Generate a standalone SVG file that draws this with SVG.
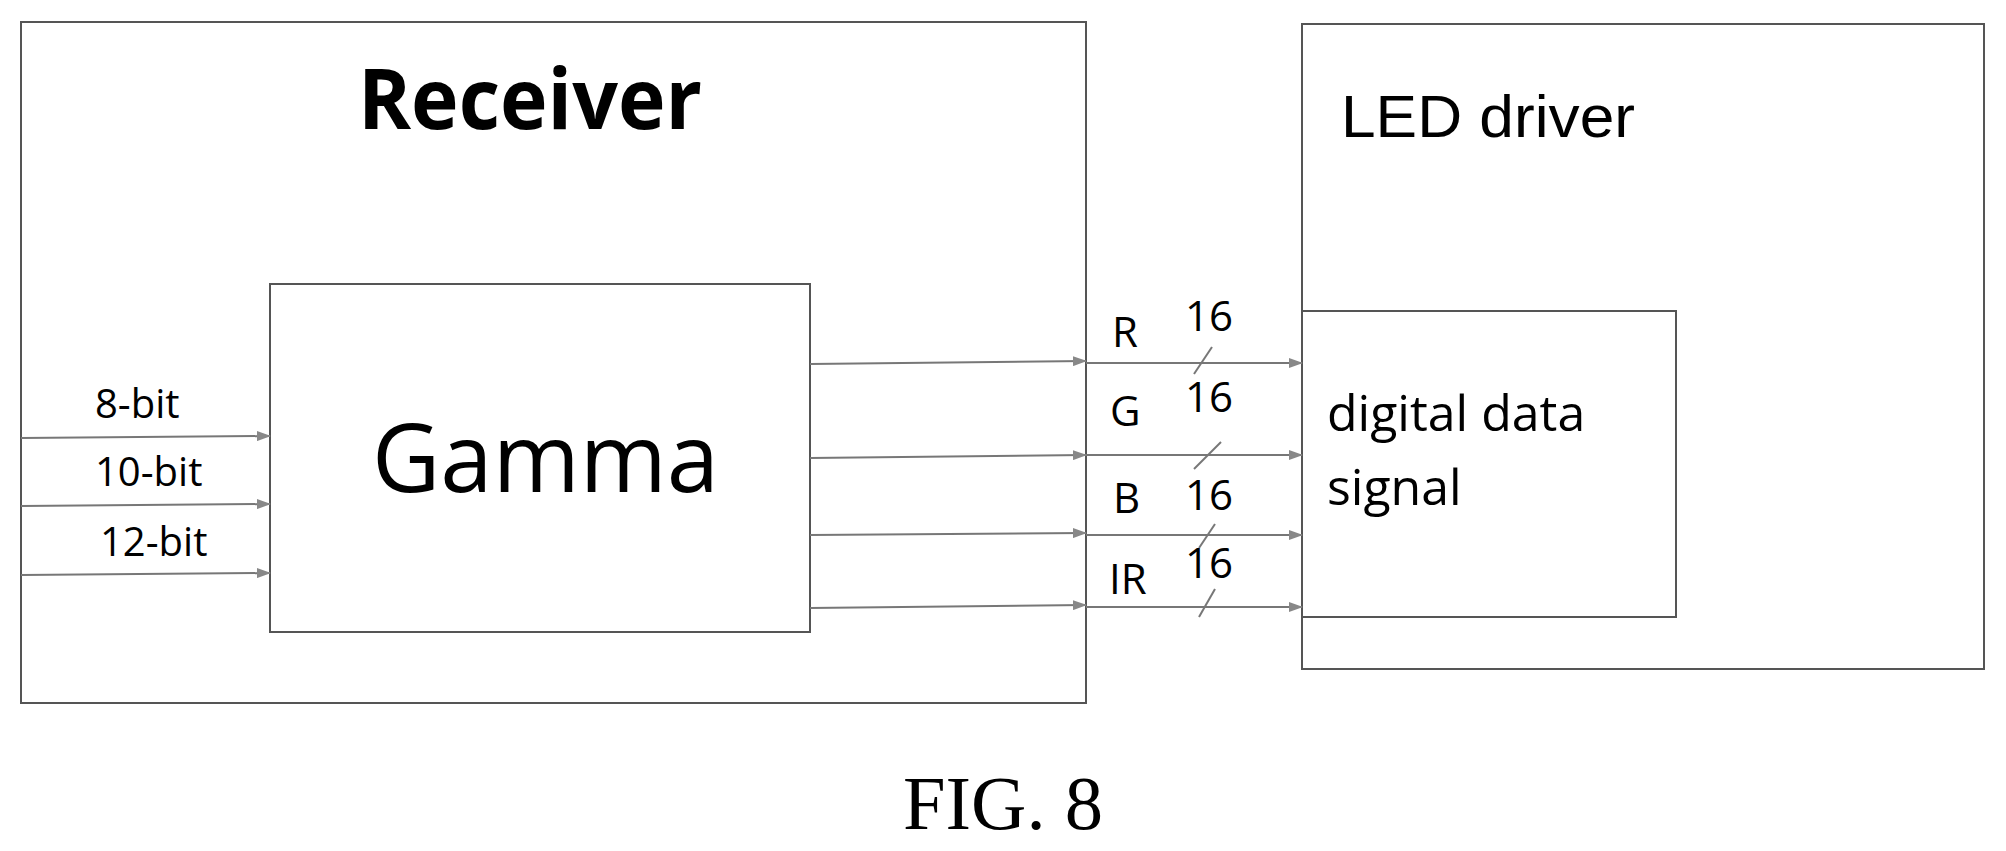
<svg xmlns="http://www.w3.org/2000/svg" width="2006" height="851" viewBox="0 0 2006 851">
<style>
.box{fill:none;stroke:#555;stroke-width:2}
.ln{stroke:#777;stroke-width:2;fill:none}
.c{font-family:"Open Sans","Liberation Sans",sans-serif;fill:#000}
.a{font-family:"Liberation Sans",Arial,sans-serif;fill:#000}
</style>
<defs><marker id="ar" markerWidth="14" markerHeight="10" refX="13" refY="5" orient="auto" markerUnits="userSpaceOnUse"><path d="M0,0 L14,5 L0,10 Z" fill="#888"/></marker></defs>
<g id="receiver"><rect class="box" x="21" y="22" width="1065" height="681"/>
<text class="c" x="358" y="129" font-size="84" font-weight="bold" textLength="344" lengthAdjust="spacingAndGlyphs">Receiver</text></g>
<g id="gamma"><rect class="box" x="270" y="284" width="540" height="348"/>
<text class="c" x="372" y="492" font-size="96" textLength="347" lengthAdjust="spacingAndGlyphs">Gamma</text></g>
<g id="led"><rect class="box" x="1302" y="24" width="682" height="645"/>
<text class="a" x="1341" y="137" font-size="60" textLength="294" lengthAdjust="spacingAndGlyphs">LED driver</text></g>
<g id="digital"><rect class="box" x="1302" y="311" width="374" height="306"/>
<text class="c" x="1327" y="431" font-size="50">digital data</text>
<text class="c" x="1327" y="505" font-size="50">signal</text></g>
<g id="connectors">
<line class="ln" x1="21" y1="438" x2="270" y2="436" marker-end="url(#ar)"/>
<line class="ln" x1="21" y1="506" x2="270" y2="504" marker-end="url(#ar)"/>
<line class="ln" x1="21" y1="575" x2="270" y2="573" marker-end="url(#ar)"/>
<line class="ln" x1="810" y1="364" x2="1086" y2="361" marker-end="url(#ar)"/>
<line class="ln" x1="810" y1="458" x2="1086" y2="455" marker-end="url(#ar)"/>
<line class="ln" x1="810" y1="535" x2="1086" y2="533" marker-end="url(#ar)"/>
<line class="ln" x1="810" y1="608" x2="1086" y2="605" marker-end="url(#ar)"/>
<line class="ln" x1="1086" y1="363" x2="1302" y2="363" marker-end="url(#ar)"/>
<line class="ln" x1="1086" y1="455" x2="1302" y2="455" marker-end="url(#ar)"/>
<line class="ln" x1="1086" y1="535" x2="1302" y2="535" marker-end="url(#ar)"/>
<line class="ln" x1="1086" y1="607" x2="1302" y2="607" marker-end="url(#ar)"/>
<line class="ln" x1="1212" y1="347" x2="1194" y2="374"/>
<line class="ln" x1="1221" y1="442" x2="1194" y2="469"/>
<line class="ln" x1="1215" y1="524" x2="1199" y2="548"/>
<line class="ln" x1="1215" y1="589" x2="1199" y2="617"/>
</g>
<g class="c" font-size="40">
<text x="95" y="418">8-bit</text><text x="95" y="486">10-bit</text><text x="100" y="556">12-bit</text>
</g>
<g class="c" font-size="42">
<text x="1112" y="347">R</text><text x="1110" y="426">G</text><text x="1113" y="513">B</text><text x="1109" y="594">IR</text>
<text x="1185" y="331">16</text><text x="1185" y="412">16</text><text x="1185" y="510">16</text><text x="1185" y="578">16</text>
</g>
<text x="903" y="829" font-family="Liberation Serif,serif" font-size="76" textLength="200" lengthAdjust="spacingAndGlyphs">FIG. 8</text>
</svg>
